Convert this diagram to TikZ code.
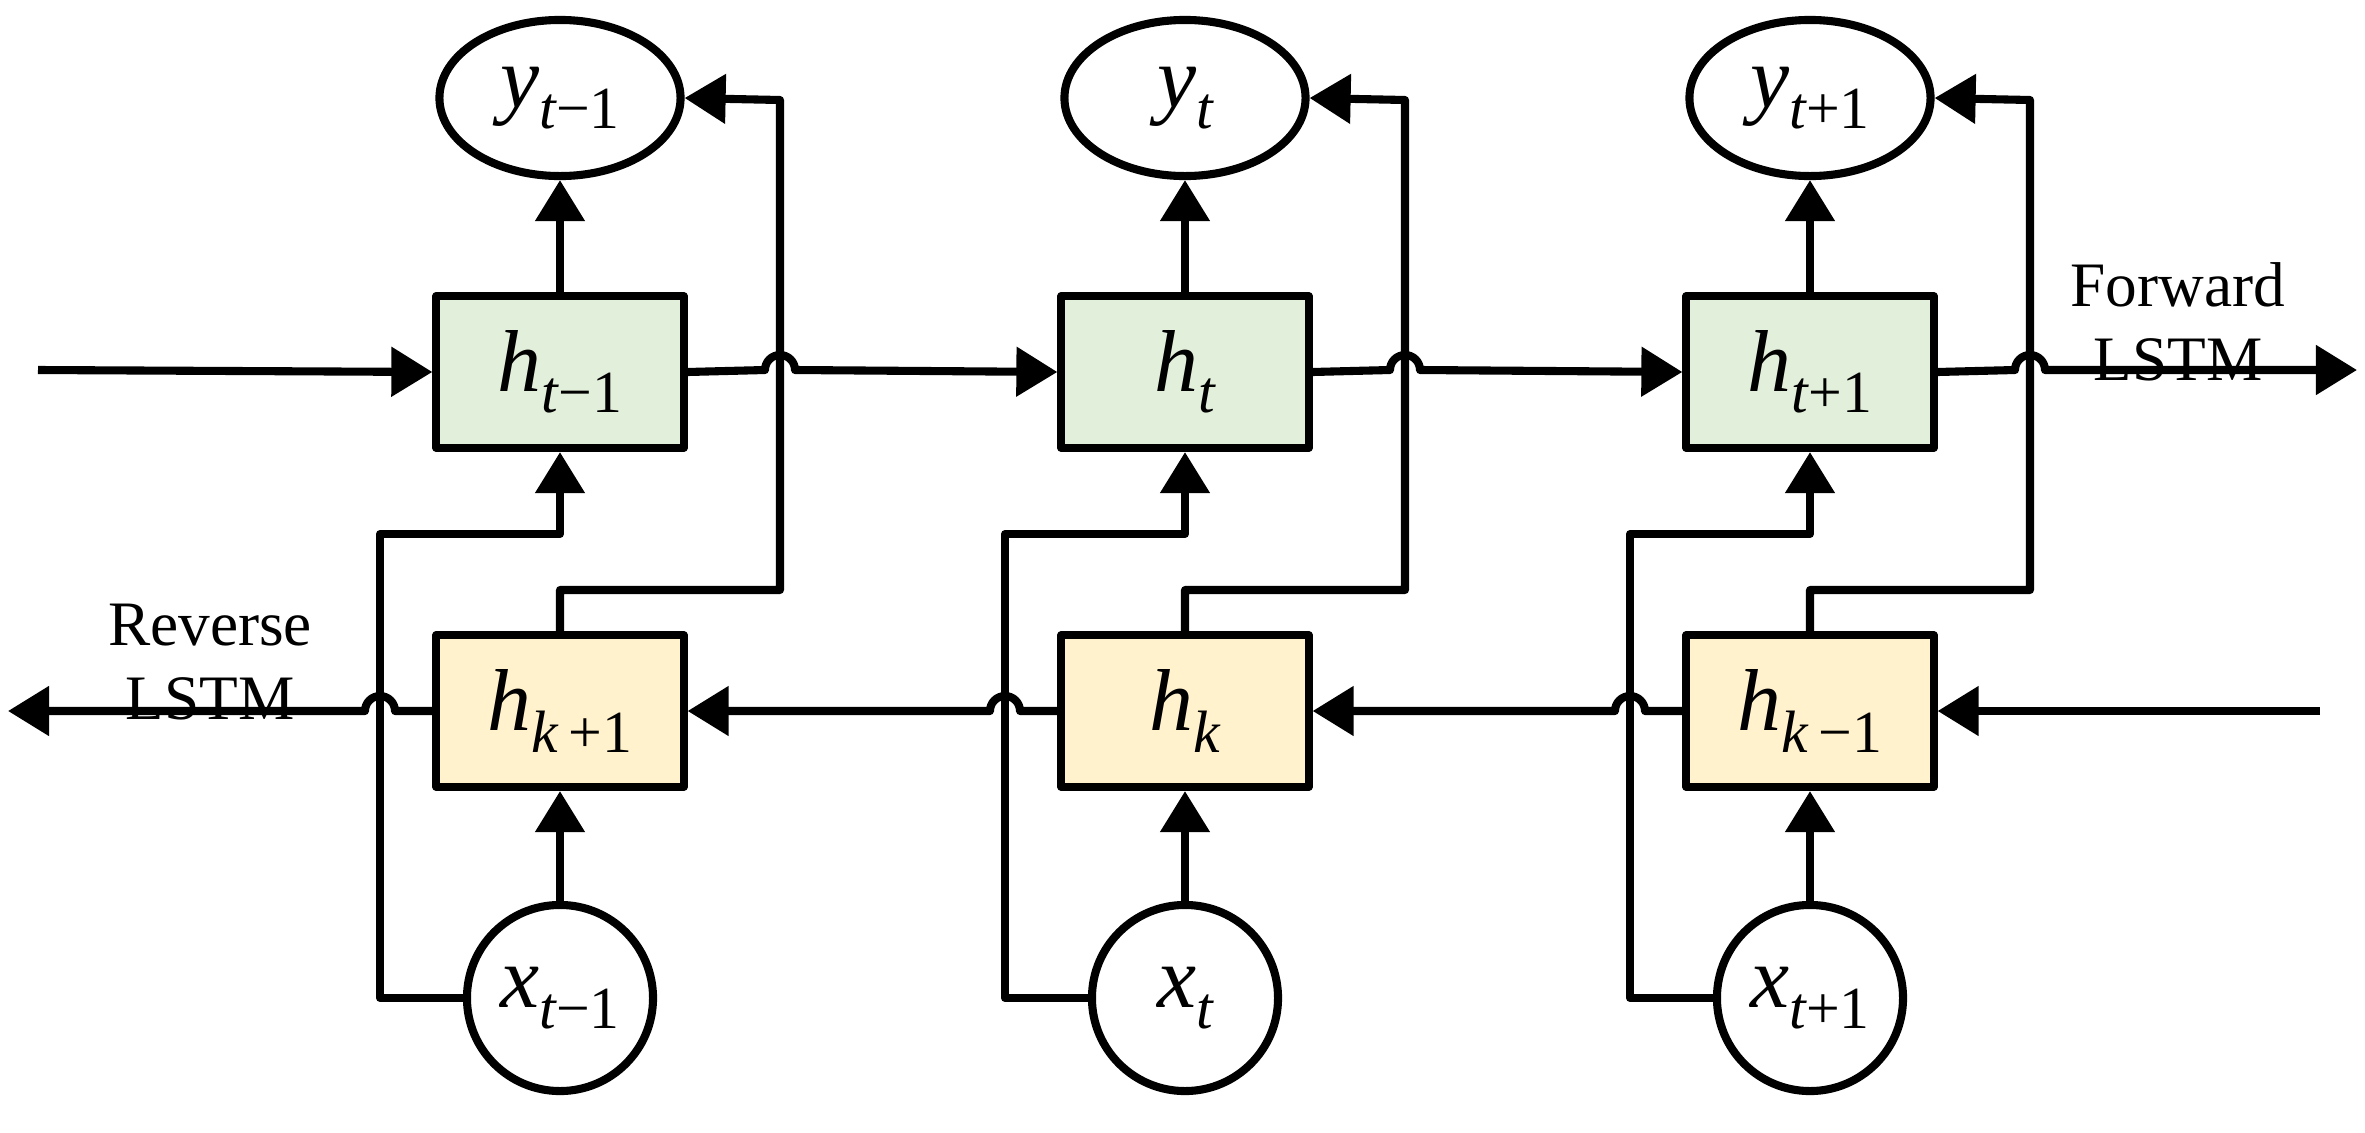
\documentclass[tikz,border=0pt]{standalone}
\usepackage{fontspec}
\setmainfont{Liberation Serif}
\usetikzlibrary{arrows.meta,shapes.geometric}
\newcommand\lbl[3]{{\fontsize{25}{25}\selectfont\itshape #1}\raisebox{-6pt}{\fontsize{17}{17}\selectfont{\itshape #2}#3}}
\definecolor{fgreen}{HTML}{E2EFDA}
\definecolor{ryellow}{HTML}{FFF2CC}
\begin{document}
\begin{tikzpicture}[x=0.01cm,y=-0.01cm,line width=2.3pt,line join=round,
  >={Triangle[length=0.41cm,width=0.48cm]},
  fbox/.style={draw,fill=fgreen,minimum width=2.47cm,minimum height=1.52cm,inner sep=0pt},
  rbox/.style={draw,fill=ryellow,minimum width=2.47cm,minimum height=1.52cm,inner sep=0pt},
  outn/.style={draw,fill=white,ellipse,minimum width=2.41cm,minimum height=1.56cm,inner sep=0pt},
  inn/.style={draw,fill=white,circle,minimum size=1.86cm,inner sep=0pt},
  txt/.style={font=\fontsize{18}{21}\selectfont,align=center}]
\useasboundingbox (0,0) rectangle (2365,1133);
% nodes
\foreach \i/\cx/\fs/\rs/\rr in {1/560/t/k/{+1},2/1185/t/k/{},3/1810/t/k/{−1}}{}
\node[outn] (y1) at (560,98) {\lbl{y}{t}{−1}};
\node[outn] (y2) at (1185,98) {\lbl{y}{t}{}};
\node[outn] (y3) at (1810,98) {\lbl{y}{t}{+1}};
\node[fbox] (f1) at (560,372) {\lbl{h}{t}{−1}};
\node[fbox] (f2) at (1185,372) {\lbl{h}{t}{}};
\node[fbox] (f3) at (1810,372) {\lbl{h}{t}{+1}};
\node[rbox] (r1) at (560,711) {\lbl{h}{k}{\,+1}};
\node[rbox] (r2) at (1185,711) {\lbl{h}{k}{}};
\node[rbox] (r3) at (1810,711) {\lbl{h}{k}{\,−1}};
\node[inn] (x1) at (560,998) {\lbl{x}{t}{−1}};
\node[inn] (x2) at (1185,998) {\lbl{x}{t}{}};
\node[inn] (x3) at (1810,998) {\lbl{x}{t}{+1}};
\node[txt] (fl) at (2178,322) {Forward\\LSTM};
\node[txt] (rl) at (210,662) {Reverse\\LSTM};
\coordinate (fs) at (38,370);
\coordinate (fe) at (2357,370);
\coordinate (rs) at (2320,711);
\coordinate (re) at (8,711);
% forward chain
\draw[->] (fs) -- (f1.west);
\draw[->] (f1.east) -- (765,370) arc[start angle=180,end angle=360,radius=15] -- (f2.west);
\draw[->] (f2.east) -- (1390,370) arc[start angle=180,end angle=360,radius=15] -- (f3.west);
\draw[->] (f3.east) -- (2015,370) arc[start angle=180,end angle=360,radius=15] -- (fe);
% reverse chain
\draw[->] (rs) -- (r3.east);
\draw[->] (r3.west) -- (1645,711) arc[start angle=0,end angle=-180,radius=15] -- (r2.east);
\draw[->] (r2.west) -- (1020,711) arc[start angle=0,end angle=-180,radius=15] -- (r1.east);
\draw[->] (r1.west) -- (395,711) arc[start angle=0,end angle=-180,radius=15] -- (re);
% per column
\foreach \n/\cx in {1/560,2/1185,3/1810}{
  \draw[->] (f\n.north) -- (y\n.south);
  \draw[->] (x\n.north) -- (r\n.south);
  \draw[->] (x\n.west) -- (\cx-180,998) -- (\cx-180,534) -- (\cx,534) -- (f\n.south);
  \draw[->] (r\n.north) -- (\cx,590) -- (\cx+220,590) -- (\cx+220,100) -- (y\n.east);
}
\end{tikzpicture}
\end{document}
